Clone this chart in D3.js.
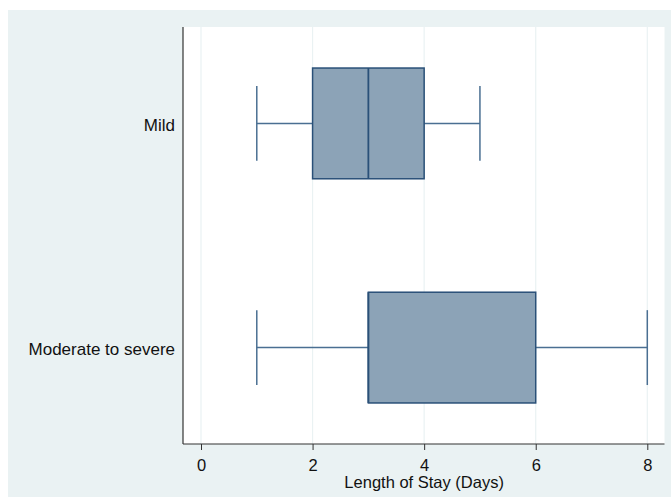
<!DOCTYPE html>
<html><head><meta charset="utf-8">
<script src="https://cdn.jsdelivr.net/npm/d3@7"></script>
<style>body{margin:0;background:#fff;}svg{display:block;font-family:"Liberation Sans",Arial,sans-serif;}</style>
</head><body><div id="chart"></div>
<script>
const categories = ["Mild", "Moderate to severe"];
const whiskerLow = [1, 1];
const q1 = [2, 3];
const medians = [3, 3];
const q3 = [4, 6];
const whiskerHigh = [5, 8];
const xTicks = [0, 2, 4, 6, 8];
const xTitle = "Length of Stay (Days)";

const W = 671, H = 497;
const svg = d3.select("#chart").append("svg").attr("width", W).attr("height", H);
svg.append("rect").attr("x", 8).attr("y", 10).attr("width", W - 8).attr("height", H - 10).attr("fill", "#eaf2f3");

const pl = 183, pr = 664.5, pt = 27, pb = 444;
svg.append("rect").attr("x", pl).attr("y", pt).attr("width", pr - pl).attr("height", pb - pt).attr("fill", "#ffffff");

const x = d3.scaleLinear().domain([0, 8]).range([201, 647.3]);
const y = d3.scalePoint().domain(categories).range([pt, pb]).padding(0.43);
const step = y.step();
const boxH = step * 0.494, capH = step * 0.334;

// gridlines
svg.append("g").selectAll("line").data(xTicks).join("line")
  .attr("x1", d => x(d)).attr("x2", d => x(d)).attr("y1", pt).attr("y2", pb)
  .attr("stroke", "#eaf2f3").attr("stroke-width", 1.2);

const data = categories.map((c, i) => ({c, lo: whiskerLow[i], q1: q1[i], med: medians[i], q3: q3[i], hi: whiskerHigh[i]}));
const g = svg.append("g");
const wc = "#4a6f92", bc = "#2a5078";
data.forEach(d => {
  const cy = y(d.c);
  g.append("line").attr("x1", x(d.lo)).attr("x2", x(d.q1)).attr("y1", cy).attr("y2", cy).attr("stroke", wc).attr("stroke-width", 1.5);
  g.append("line").attr("x1", x(d.q3)).attr("x2", x(d.hi)).attr("y1", cy).attr("y2", cy).attr("stroke", wc).attr("stroke-width", 1.5);
  g.append("line").attr("x1", x(d.lo)).attr("x2", x(d.lo)).attr("y1", cy - capH / 2).attr("y2", cy + capH / 2).attr("stroke", wc).attr("stroke-width", 1.5);
  g.append("line").attr("x1", x(d.hi)).attr("x2", x(d.hi)).attr("y1", cy - capH / 2).attr("y2", cy + capH / 2).attr("stroke", wc).attr("stroke-width", 1.5);
  g.append("rect").attr("x", x(d.q1)).attr("y", cy - boxH / 2).attr("width", x(d.q3) - x(d.q1)).attr("height", boxH)
    .attr("fill", "#8ca3b7").attr("stroke", bc).attr("stroke-width", 1.5);
  g.append("line").attr("x1", x(d.med)).attr("x2", x(d.med)).attr("y1", cy - boxH / 2).attr("y2", cy + boxH / 2).attr("stroke", bc).attr("stroke-width", 1.8);
});

// x axis
const xAxis = svg.append("g").attr("transform", `translate(0,${pb})`)
  .call(d3.axisBottom(x).tickValues(xTicks).tickSize(6).tickPadding(6).tickFormat(d3.format("d")));
xAxis.select(".domain").attr("d", `M${pl},0H${pr}`).attr("stroke", "#333").attr("stroke-width", 1.2);
xAxis.selectAll(".tick line").attr("stroke", "#333");
xAxis.selectAll("text").attr("font-size", 16.5).attr("fill", "#111").attr("font-family", "Liberation Sans, Arial, sans-serif")
  .attr("y", 26.8).attr("dy", null);

svg.append("text").attr("x", x(4)).attr("y", 487.5).attr("text-anchor", "middle")
  .attr("font-size", 16.5).attr("fill", "#111").text(xTitle);

// y axis
svg.append("line").attr("x1", pl).attr("x2", pl).attr("y1", pt).attr("y2", pb).attr("stroke", "#333").attr("stroke-width", 1.2);
svg.append("g").selectAll("text").data(categories).join("text")
  .attr("x", 175).attr("y", d => y(d)).attr("dy", "0.42em").attr("text-anchor", "end")
  .attr("font-size", 17).attr("fill", "#111").text(d => d);
</script></body></html>
